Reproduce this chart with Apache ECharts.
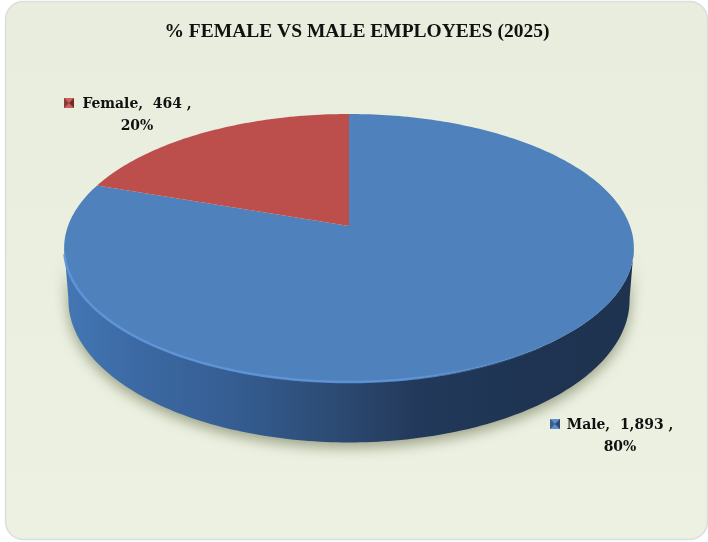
<!DOCTYPE html>
<html>
<head>
<meta charset="utf-8">
<title>% Female vs Male Employees (2025)</title>
<script src="https://cdn.jsdelivr.net/npm/echarts@6/dist/echarts.min.js"></script>
<style>
  html, body { margin: 0; padding: 0; background: #fff; }
  #main { width: 708px; height: 542px; }
</style>
</head>
<body>
<div id="main"></div>
<script>
var titleText = '% FEMALE VS MALE EMPLOYEES (2025)';
var categories = ['Male', 'Female'];
var employees = [1893, 464];

var topColors = ['#4f81bd', '#bc4f4c'];
var keyColors = [['#5f8fc8', '#2c4a74'], ['#c9605c', '#6e2b2a']];
var labelFont = 'bold 15.5px "DejaVu Serif Condensed", "DejaVu Serif"';

// where each label block sits (centre of its text) and the pie's projection
var labelCentres = [[620, 436], [137, 115]];
var keyCorners = [[550, 419], [64, 98]];
var pie = { cx: 349, apexY: 226, topY: 114, bottomY: 382, r: 281, depth: 50.5, bottomScale: 0.985 };

var total = employees.reduce(function (a, b) { return a + b; }, 0);

// disc is tilted with some perspective, so the apex is not the middle of the ellipse
var persp = (2 * pie.apexY - pie.topY - pie.bottomY) / (pie.topY - pie.bottomY);
var perspA = pie.topY * (1 + persp) - pie.apexY;

function project(u, v, drop) {
    var w = 1 + persp * v;
    var k = drop ? pie.bottomScale : 1;
    return [
        pie.cx + pie.r * k * u / w,
        (perspA * v + pie.apexY) / w + (drop ? pie.depth / w : 0)
    ];
}

// deg is clockwise from 12 o'clock
function rimPoint(deg, drop) {
    var a = deg * Math.PI / 180;
    return project(Math.sin(a), Math.cos(a), drop);
}

function arc(from, to, drop) {
    var pts = [];
    var n = Math.max(2, Math.ceil(Math.abs(to - from)));
    for (var i = 0; i <= n; i++) {
        pts.push(rimPoint(from + (to - from) * i / n, drop));
    }
    return pts;
}

function horizontal(stops) {
    return new echarts.graphic.LinearGradient(0, 0, 1, 0, stops);
}

function renderItem(params, api) {
    var i = params.dataIndex;
    var before = employees.slice(0, i).reduce(function (a, b) { return a + b; }, 0);
    var start = before / total * 360;
    var end = start + api.value(0) / total * 360;
    var children = [];

    // side wall, only where this slice faces the viewer
    var wallFrom = Math.max(start, 99);
    var wallTo = Math.min(end, 261);
    if (wallTo > wallFrom) {
        children.push({
            type: 'polygon',
            shape: { points: arc(wallFrom, wallTo, false).concat(arc(wallTo, wallFrom, true)) },
            style: {
                fill: horizontal([
                    { offset: 0, color: '#4377b5' },
                    { offset: 0.12, color: '#3c6aa4' },
                    { offset: 0.3, color: '#355d92' },
                    { offset: 0.48, color: '#2c4a72' },
                    { offset: 0.62, color: '#23395b' },
                    { offset: 0.8, color: '#1e3452' },
                    { offset: 1, color: '#1e3350' }
                ]),
                shadowColor: 'rgba(70,80,40,0.5)',
                shadowBlur: 14,
                shadowOffsetY: 5
            }
        });
    }

    children.push({
        type: 'polygon',
        shape: { points: [project(0, 0, false)].concat(arc(start, end, false)) },
        style: { fill: topColors[i] }
    });

    // bevel along the front edge of the top face, fading out to the right
    var bevelFrom = Math.max(start, 140);
    var bevelTo = Math.min(end, 258);
    if (bevelTo > bevelFrom) {
        children.push({
            type: 'polyline',
            shape: { points: arc(bevelFrom, bevelTo, false) },
            style: {
                fill: null,
                lineWidth: 2.5,
                stroke: horizontal([
                    { offset: 0, color: 'rgba(95,150,218,0.9)' },
                    { offset: 0.7, color: 'rgba(95,150,218,0.9)' },
                    { offset: 1, color: 'rgba(95,150,218,0)' }
                ])
            }
        });
    }

    // legend key with bevelled sides
    var kx = keyCorners[i][0], ky = keyCorners[i][1], ks = 10;
    children.push({
        type: 'rect',
        shape: { x: kx, y: ky, width: ks, height: ks },
        style: { fill: keyColors[i][0] }
    });
    children.push({
        type: 'polygon',
        shape: { points: [[kx + ks, ky], [kx + ks, ky + ks], [kx + ks / 2, ky + ks / 2]] },
        style: { fill: keyColors[i][1] }
    });
    children.push({
        type: 'polygon',
        shape: { points: [[kx, ky], [kx, ky + ks], [kx + ks / 2, ky + ks / 2]] },
        style: { fill: keyColors[i][1], opacity: 0.7 }
    });

    var amount = api.value(0).toLocaleString('en-US');
    var pct = Math.round(api.value(0) / total * 100);
    children.push({
        type: 'text',
        style: {
            x: labelCentres[i][0],
            y: labelCentres[i][1],
            text: categories[i] + ',  ' + amount + ' ,\n' + pct + '%',
            font: labelFont,
            lineHeight: 22,
            fill: '#111',
            align: 'center',
            verticalAlign: 'middle'
        }
    });

    return { type: 'group', children: children };
}

var chart = echarts.init(document.getElementById('main'));

chart.setOption({
    backgroundColor: '#ffffff',
    animation: false,
    title: {
        text: titleText,
        left: 352,
        top: 17,
        textAlign: 'center',
        textStyle: {
            fontFamily: 'Liberation Serif',
            fontSize: 19.5,
            fontWeight: 'bold',
            color: '#111'
        }
    },
    graphic: [{
        type: 'rect',
        z: -1,
        shape: { x: 5.5, y: 1.5, width: 702, height: 538, r: 18 },
        style: {
            fill: new echarts.graphic.LinearGradient(0, 0, 0, 1, [
                { offset: 0, color: '#e9eddd' },
                { offset: 1, color: '#edf1e2' }
            ]),
            stroke: '#dcdedc',
            lineWidth: 1.5
        }
    }],
    series: [{
        type: 'custom',
        coordinateSystem: 'none',
        renderItem: renderItem,
        clip: false,
        data: employees.map(function (v) { return [v]; })
    }]
});
</script>
</body>
</html>
